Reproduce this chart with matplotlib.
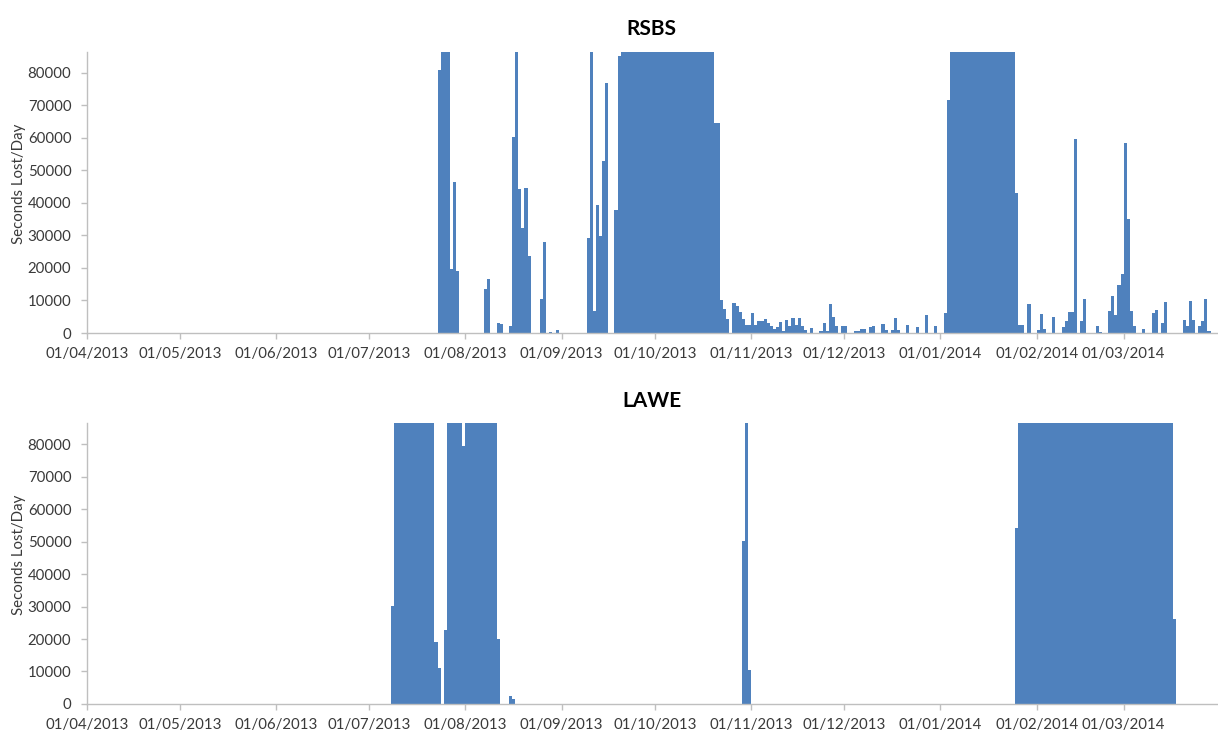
import numpy as np
import matplotlib
matplotlib.use("Agg")
import matplotlib.pyplot as plt
import matplotlib.dates as mdates

FULL = 86400  # whole day lost

# day offsets from 01/04/2013 where a run of consecutive days starts, and the values of that run
rsbs_start = [113, 128, 132, 136, 146, 149, 151, 161, 170, 208, 233, 236, 243, 247, 252,
              256, 259, 264, 267, 270, 273, 276, 303, 306, 311, 314, 320, 325, 329, 340,
              343, 346, 353, 358]
rsbs_values = [
    [81000, FULL, FULL, FULL, 19700, 46500, 19100],
    [13600, 16500],
    [3000, 2800],
    [2000, 60200, FULL, 44400, 32300, 44700, 23800],
    [10400, 28100],
    [200],
    [900],
    [29200, FULL, 6800, 39300, 29700, 52800, 76800],
    [37700, 85200,
     FULL, FULL, FULL, FULL, FULL, FULL, FULL, FULL, FULL, FULL,
     FULL, FULL, FULL, FULL, FULL, FULL, FULL, FULL, FULL, FULL,
     FULL, FULL, FULL, FULL, FULL, FULL, FULL, FULL, FULL, FULL,
     64500, 64500, 10300, 7300, 4200],
    [9200, 8400, 6600, 4300, 2400, 2600, 6100, 2600, 3700, 3700, 4300, 3100,
     2000, 1200, 1700, 3400, 500, 3900, 2200, 4600, 2600, 4600, 2000, 1000],
    [1500],
    [500, 3100, 500, 9000, 4800, 2000],
    [2200, 2000],
    [500, 500, 1200, 1200],
    [1800, 2200],
    [2900, 800],
    [800, 4600, 800],
    [2400],
    [1700],
    [5400],
    [2000],
    [6100, 71600,
     FULL, FULL, FULL, FULL, FULL, FULL, FULL, FULL, FULL, FULL,
     FULL, FULL, FULL, FULL, FULL, FULL, FULL, FULL, FULL, FULL, FULL,
     43100, 2500, 2500],
    [8800],
    [1000, 5800, 1200],
    [5000],
    [1800, 3600, 6500, 6500, 59700],
    [3600, 10600],
    [2200, 200],
    [6700, 11400, 5400, 14900, 18000, 58400, 35100, 6800, 2200],
    [1200],
    [6300, 7100],
    [3200, 9400],
    [4100, 2300, 9700, 4100],
    [2300, 3800, 10400, 500],
]

lawe_start = [98, 115, 136, 211, 299]
lawe_values = [
    [30100,
     FULL, FULL, FULL, FULL, FULL, FULL, FULL, FULL, FULL, FULL, FULL, FULL, FULL,
     19200, 11200],
    [22800, FULL, FULL, FULL, FULL, FULL, 79300,
     FULL, FULL, FULL, FULL, FULL, FULL, FULL, FULL, FULL, FULL, 19900],
    [2350, 1500],
    [50200, FULL, 10500],
    [54200,
     FULL, FULL, FULL, FULL, FULL, FULL, FULL, FULL, FULL, FULL,
     FULL, FULL, FULL, FULL, FULL, FULL, FULL, FULL, FULL, FULL,
     FULL, FULL, FULL, FULL, FULL, FULL, FULL, FULL, FULL, FULL,
     FULL, FULL, FULL, FULL, FULL, FULL, FULL, FULL, FULL, FULL,
     FULL, FULL, FULL, FULL, FULL, FULL, FULL, FULL, FULL, FULL,
     26100],
]

first_day = "2013-04-01"
last_day = "2014-03-31"
yticks = [0, 10000, 20000, 30000, 40000, 50000, 60000, 70000, 80000]

plt.rcParams["font.family"] = ["Lato", "DejaVu Sans"]
BLUE = "#4F81BD"
GREY = "#BFBFBF"
TEXT = "#3A3A3A"


def expand(starts, runs):
    days, vals = [], []
    for s, run in zip(starts, runs):
        for k, v in enumerate(run):
            days.append(s + k)
            vals.append(v)
    x = mdates.date2num(np.datetime64(first_day) + np.array(days, dtype="timedelta64[D]"))
    return x, vals


def panel(ax, starts, runs, name):
    x, vals = expand(starts, runs)
    ax.bar(x, vals, width=1.0, align="edge", color=BLUE, linewidth=0)
    ax.set_xlim(mdates.date2num(np.datetime64(first_day)), mdates.date2num(np.datetime64(last_day)))
    ax.set_ylim(0, FULL)
    ax.set_yticks(yticks)
    ax.xaxis.set_major_locator(mdates.MonthLocator())
    ax.xaxis.set_major_formatter(mdates.DateFormatter("%d/%m/%Y"))
    for s in ["top", "right"]:
        ax.spines[s].set_visible(False)
    for s in ["left", "bottom"]:
        ax.spines[s].set_color(GREY)
        ax.spines[s].set_linewidth(1.0)
    ax.tick_params(axis="both", colors=GREY, labelcolor=TEXT, labelsize=10.8,
                   length=4, width=1.0, direction="out")
    ax.tick_params(axis="x", pad=6)
    ax.tick_params(axis="y", pad=7)
    ax.set_ylabel("Seconds Lost/Day", fontsize=10.8, color=TEXT)
    ax.yaxis.set_label_coords(-0.054, 0.53)
    ax.set_title(name, fontsize=15, fontweight="bold", color="black", pad=12)


fig = plt.figure(figsize=(12.18, 7.33), dpi=100)
ax1 = fig.add_axes([0.0712, 0.5457, 0.9278, 0.3833])
ax2 = fig.add_axes([0.0712, 0.0396, 0.9278, 0.3829])
panel(ax1, rsbs_start, rsbs_values, "RSBS")
panel(ax2, lawe_start, lawe_values, "LAWE")

fig.savefig("out.png", dpi=100)
